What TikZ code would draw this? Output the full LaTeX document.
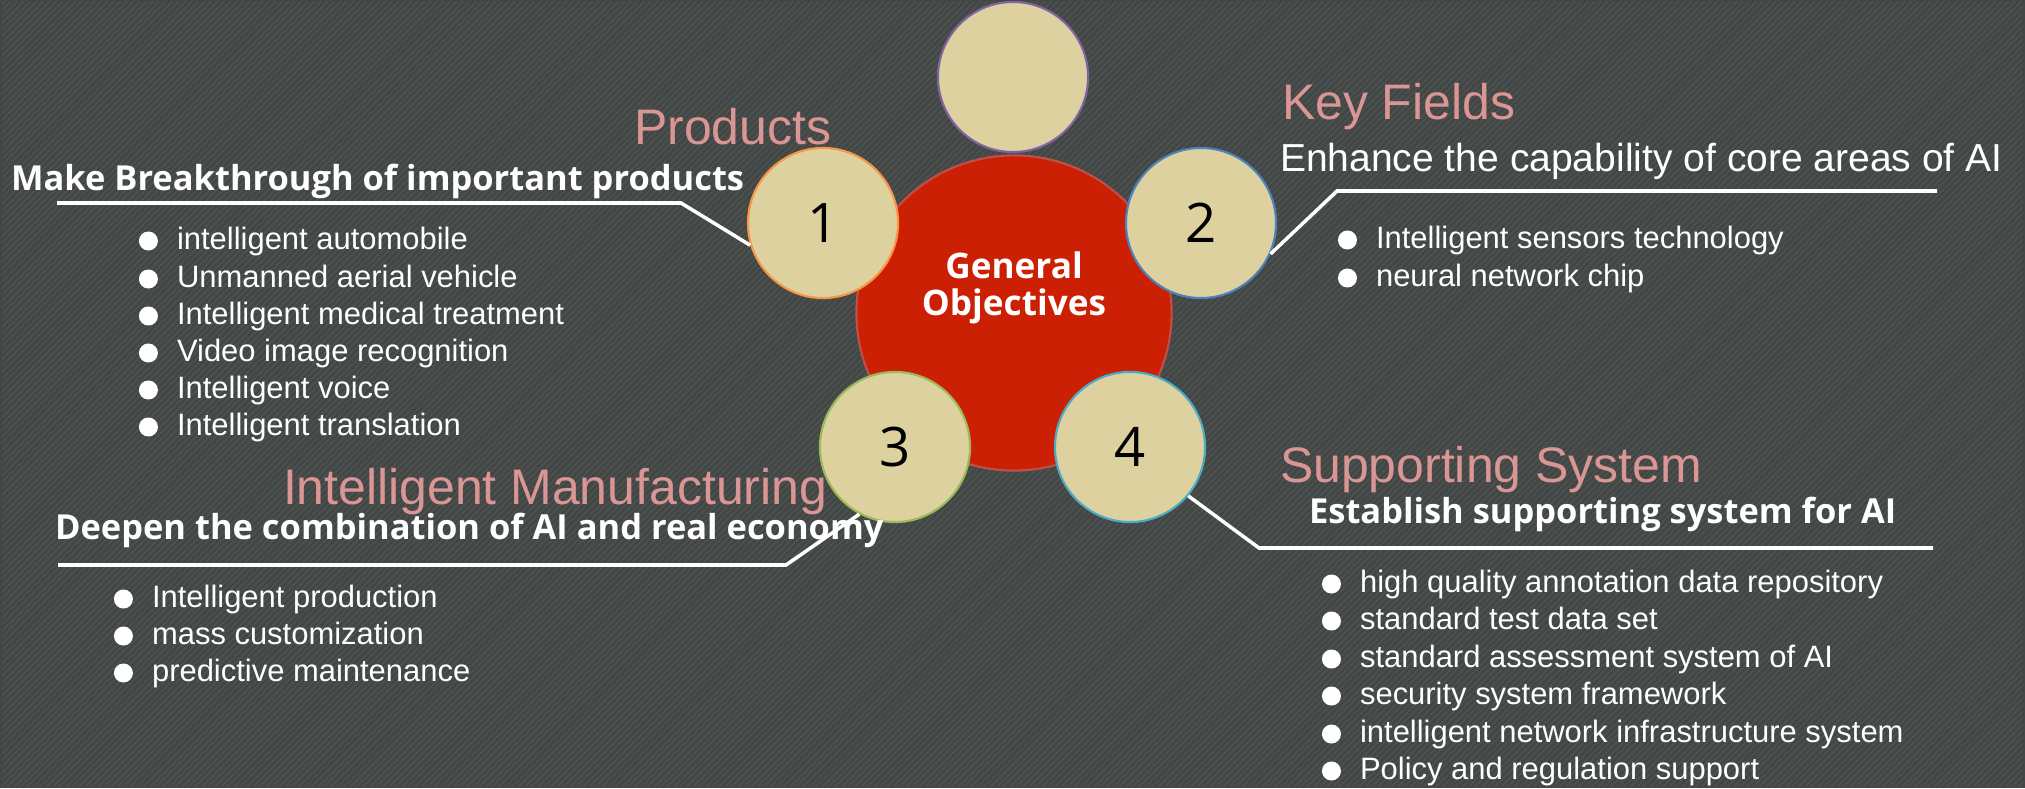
\documentclass[tikz,border=0pt]{standalone}
\usepackage{fontspec}
\setmainfont{Liberation Sans}
\newfontfamily\yahei{Open Sans}
\usepackage{xcolor}
\usepackage{tikz}
\usetikzlibrary{positioning,calc,patterns.meta}

\definecolor{bgrey}{RGB}{66,71,70}
\definecolor{bstripe}{RGB}{77,82,81}
\definecolor{objred}{RGB}{204,32,4}
\definecolor{objrim}{RGB}{190,80,75}
\definecolor{ballfill}{RGB}{221,209,159}
\definecolor{rose}{RGB}{217,150,148}
\definecolor{rimpurple}{RGB}{128,100,162}
\definecolor{rimorange}{RGB}{247,150,70}
\definecolor{rimblue}{RGB}{79,129,189}
\definecolor{rimgreen}{RGB}{155,187,89}
\definecolor{rimaqua}{RGB}{75,172,198}

\begin{document}
\begin{tikzpicture}[x=0.01cm,y=-0.01cm,
semithick, node distance=0.17cm]

\tikzstyle{ball}=[circle, minimum size=1.5cm, inner sep=0pt, fill=ballfill,
line width=0.6pt, text=black, font=\yahei\fontsize{15.5}{18}\selectfont]
\tikzstyle{link}=[draw=white, line width=1pt]
\tikzstyle{title}=[anchor=base west, inner sep=0pt, text=rose,
font=\fontsize{14.2}{17}\selectfont]
\tikzstyle{lead}=[anchor=base west, inner sep=0pt, text=white,
font=\yahei\bfseries\fontsize{9.8}{12}\selectfont]
\tikzstyle{item}=[anchor=west, inner sep=0pt, text=white, text height=0.22cm,
text depth=0.06cm, font=\fontsize{8.8}{10}\selectfont]
\tikzstyle{dot}=[circle, fill=white, minimum size=0.19cm, inner sep=0pt]

%background
\useasboundingbox (0,0) rectangle (2025,788);
\fill[bgrey] (0,0) rectangle (2025,788);
\begin{scope}
\clip (2,2) rectangle (2023,786);
\fill[pattern={Lines[angle=45,distance=1.3pt,line width=0.45pt]}, pattern color=bstripe]
(0,0) rectangle (2025,788);
\end{scope}

%centre
\node[circle, minimum size=3.15cm, fill=objred, draw=objrim, line width=0.6pt]
(go) at (1014,313) {};

%connectors
\coordinate (k1) at (681,203);
\coordinate (e1) at (57,203);
\coordinate (k2) at (1337,191);
\coordinate (e2) at (1937,191);
\coordinate (k3) at (786,565);
\coordinate (e3) at (58,565);
\coordinate (k4) at (1259,548);
\coordinate (e4) at (1933,548);

%circles
\node[ball, draw=rimpurple]
(top) at (1013,77)
{};

\node[ball, draw=rimorange]
(c1) at (823,223)
{1};

\node[ball, draw=rimblue]
(c2) at (1201,223)
{2};

\node[ball, draw=rimgreen]
(c3) at (895,447)
{3};

\node[ball, draw=rimaqua]
(c4) at (1130,447)
{4};

\path[link] (c1.197) -- (k1) -- (e1);
\path[link] (c2.336) -- (k2) -- (e2);
\path[link] (c3.242) -- (k3) -- (e3);
\path[link] (c4.320) -- (k4) -- (e4);

\node[align=center, text=white, font=\yahei\bfseries\fontsize{10}{10.5}\selectfont]
(gt) at (1014,288)
{General\\Objectives};

%products
\node[title] (t1) at (633,145) {Products};
\node[lead] (l1) at (10,190) {Make Breakthrough of important products};
\node[item] (p1) at (176,241) {intelligent automobile};
\node[item] (p2) at (176,279) {Unmanned aerial vehicle};
\node[item] (p3) at (176,316) {Intelligent medical treatment};
\node[item] (p4) at (176,353) {Video image recognition};
\node[item] (p5) at (176,390) {Intelligent voice};
\node[item] (p6) at (176,427) {Intelligent translation};
\node[dot, left=of p1] (pd1) {};
\node[dot, left=of p2] (pd2) {};
\node[dot, left=of p3] (pd3) {};
\node[dot, left=of p4] (pd4) {};
\node[dot, left=of p5] (pd5) {};
\node[dot, left=of p6] (pd6) {};

%key fields
\node[title] (t2) at (1281,120) {Key Fields};
\node[anchor=base west, inner sep=0pt, text=white, font=\fontsize{11.1}{13}\selectfont]
(l2) at (1279,172) {Enhance the capability of core areas of AI};
\node[item] (f1) at (1375,240) {Intelligent sensors technology};
\node[item] (f2) at (1375,278) {neural network chip};
\node[dot, left=of f1] (fd1) {};
\node[dot, left=of f2] (fd2) {};

%manufacturing
\node[title] (t3) at (282,504) {Intelligent Manufacturing};
\node[lead] (l3) at (54,539) {Deepen the combination of AI and real economy};
\node[item] (m1) at (151,599) {Intelligent production};
\node[item] (m2) at (151,636) {mass customization};
\node[item] (m3) at (151,673) {predictive maintenance};
\node[dot, left=of m1] (md1) {};
\node[dot, left=of m2] (md2) {};
\node[dot, left=of m3] (md3) {};

%supporting system
\node[title] (t4) at (1279,482) {Supporting System};
\node[lead] (l4) at (1308,523) {Establish supporting system for AI};
\node[item] (s1) at (1359,584) {high quality annotation data repository};
\node[item] (s2) at (1359,621) {standard test data set};
\node[item] (s3) at (1359,659) {standard assessment system of AI};
\node[item] (s4) at (1359,696) {security system framework};
\node[item] (s5) at (1359,734) {intelligent network infrastructure system};
\node[item] (s6) at (1359,771) {Policy and regulation support};
\node[dot, left=of s1] (sd1) {};
\node[dot, left=of s2] (sd2) {};
\node[dot, left=of s3] (sd3) {};
\node[dot, left=of s4] (sd4) {};
\node[dot, left=of s5] (sd5) {};
\node[dot, left=of s6] (sd6) {};

\end{tikzpicture}
\end{document}
